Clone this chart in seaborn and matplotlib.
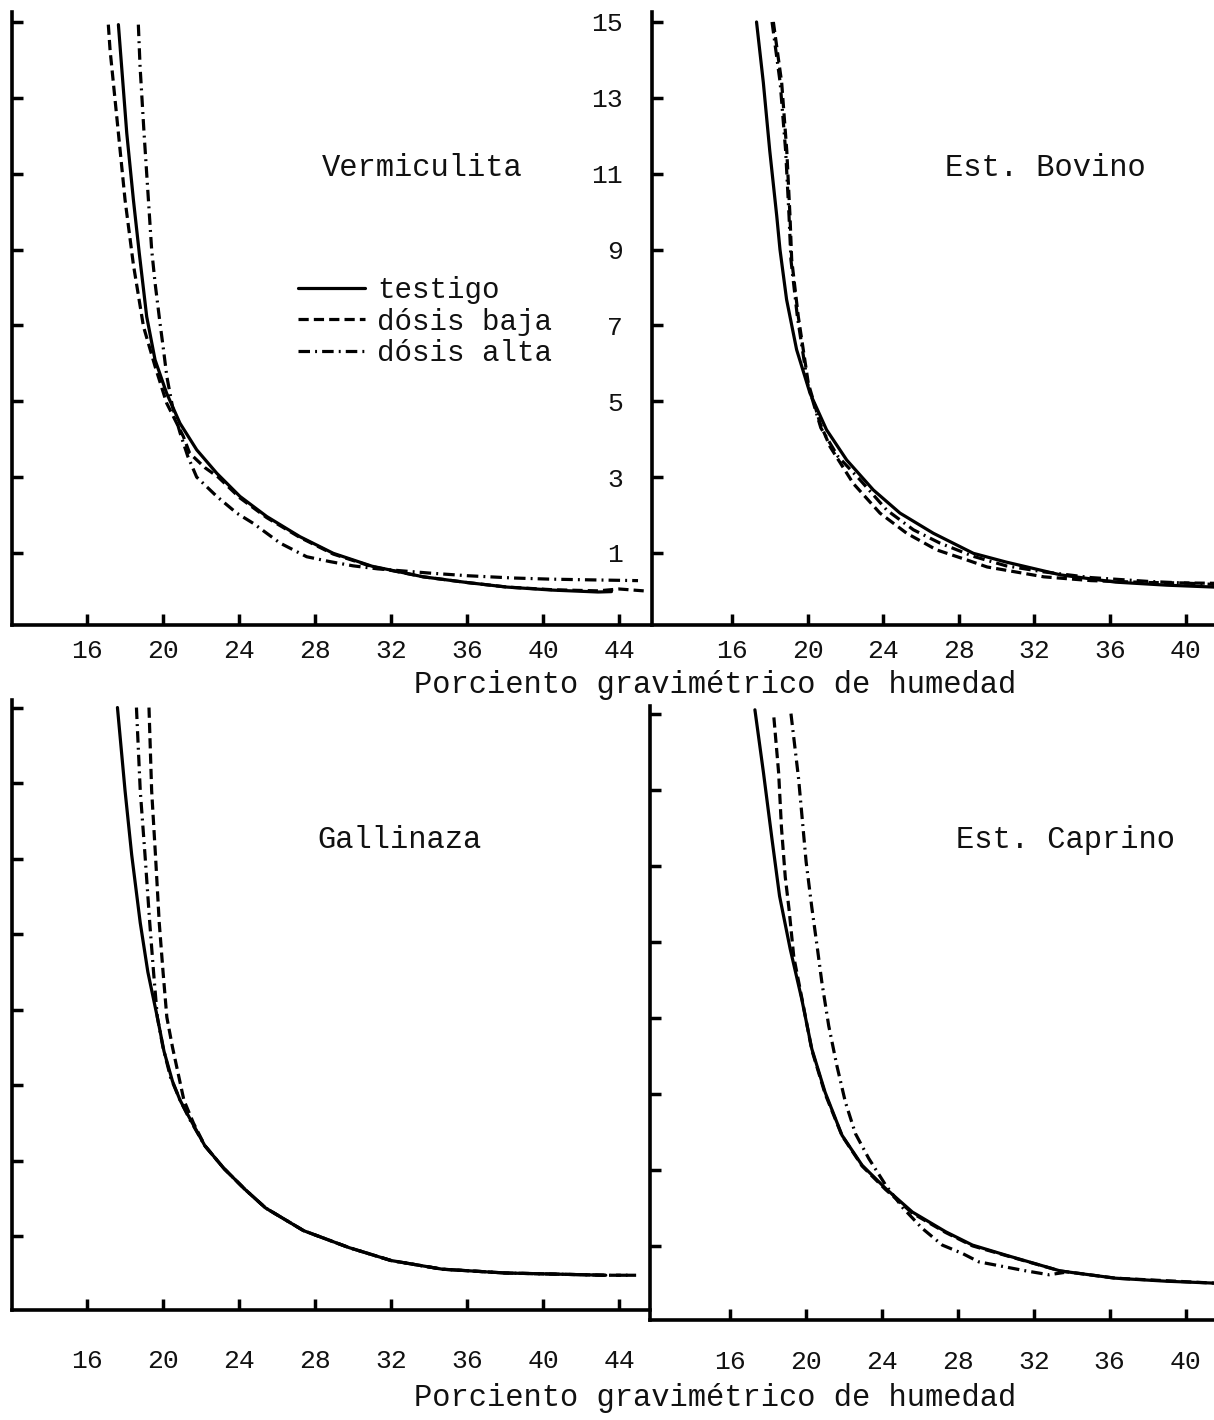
import numpy as np
import pandas as pd
import seaborn as sns
import matplotlib.pyplot as plt

sns.set_theme(style="ticks")
plt.rcParams['font.family'] = ['Liberation Mono', 'DejaVu Sans Mono']

series = ['testigo', 'dósis baja', 'dósis alta']
paneles = ['Vermiculita', 'Est. Bovino', 'Gallinaza', 'Est. Caprino']
xticks_izq = [16, 20, 24, 28, 32, 36, 40, 44]
xticks_der = [16, 20, 24, 28, 32, 36, 40]
yticks = [1, 3, 5, 7, 9, 11, 13, 15]
xlabel = 'Porciento gravimétrico de humedad'

# Vermiculita
verm_testigo_x = [17.65, 18.09, 18.44, 18.75, 19.14, 19.58, 20.19, 20.89, 21.77, 22.83, 24.05, 25.46,
                  27.2, 28.96, 31.0, 33.7, 36.0, 38.1, 40.5, 42.9, 43.6]
verm_testigo_y = [14.93, 12.07, 10.31, 8.9, 7.23, 6.09, 5.21, 4.42, 3.72, 3.10, 2.49, 1.96,
                  1.43, 0.99, 0.65, 0.37, 0.22, 0.1, 0.02, -0.03, -0.02]
verm_baja_x = [17.12, 17.21, 17.65, 18.0, 18.44, 18.97, 19.58, 20.19, 21.07, 21.4, 22.2, 22.9,
               24.05, 25.46, 27.2, 28.96, 31.0, 33.7, 36.0, 38.1, 40.5, 42.9, 44.0, 45.3]
verm_baja_y = [14.93, 14.27, 12.07, 10.31, 8.6, 6.97, 5.92, 4.95, 4.07, 3.63, 3.25, 3.0,
               2.45, 1.93, 1.41, 0.97, 0.64, 0.37, 0.22, 0.1, 0.03, 0.0, 0.05, 0.0]
verm_alta_x = [18.7, 18.79, 19.0, 19.23, 19.4, 19.58, 19.84, 20.0, 20.2, 20.5, 20.9, 21.3, 21.77,
               22.83, 23.88, 24.75, 26.16, 27.56, 28.8, 30.0, 31.3, 34.0, 36.0, 38.4, 40.3, 42.5, 45.0]
verm_alta_y = [14.93, 13.83, 12.07, 10.31, 9.0, 8.12, 7.06, 6.45, 5.65, 4.85, 4.16, 3.55, 3.0,
               2.49, 2.05, 1.78, 1.26, 0.9, 0.77, 0.66, 0.58, 0.47, 0.4, 0.34, 0.31, 0.29, 0.27]

# Est. Bovino
bov_testigo_x = [17.3, 17.66, 18.0, 18.37, 18.54, 18.89, 19.42, 20.13, 21.0, 22.07, 23.48, 24.89,
                 26.65, 28.77, 30.5, 33.4, 36.3, 39.0, 41.5]
bov_testigo_y = [15.0, 13.4, 11.6, 9.88, 9.0, 7.68, 6.36, 5.21, 4.25, 3.45, 2.66, 2.05,
                 1.52, 0.99, 0.76, 0.42, 0.23, 0.15, 0.1]
bov_baja_x = [18.19, 18.63, 18.9, 19.07, 19.16, 19.51, 20.04, 20.66, 21.19, 22.42, 23.83, 25.24,
              26.83, 28.4, 29.5, 32.5, 35.0, 38.0, 41.5]
bov_baja_y = [15.0, 13.4, 11.6, 9.88, 8.73, 7.23, 5.47, 4.42, 3.8, 2.83, 2.05, 1.52,
              1.08, 0.82, 0.63, 0.37, 0.27, 0.22, 0.2]
bov_alta_x = [18.12, 18.55, 18.84, 19.02, 19.12, 19.46, 20.0, 20.7, 21.6, 22.77, 24.19, 25.6,
              27.0, 28.77, 30.5, 32.5, 35.0, 38.0, 41.5]
bov_alta_y = [15.0, 13.4, 11.6, 9.88, 8.73, 7.23, 5.47, 4.3, 3.55, 2.93, 2.13, 1.61,
              1.26, 0.91, 0.66, 0.5, 0.35, 0.25, 0.17]

# Gallinaza
gal_testigo_x = [17.6, 18.0, 18.35, 18.8, 19.2, 19.7, 20.05, 20.5, 20.9, 21.4, 22.2, 23.2, 24.3,
                 25.4, 27.4, 29.8, 32.0, 34.7, 38.0, 43.3]
gal_testigo_y = [15.0, 12.8, 11.1, 9.3, 8.0, 6.8, 5.9, 5.1, 4.6, 4.13, 3.4, 2.8, 2.25,
                 1.75, 1.15, 0.7, 0.36, 0.13, 0.03, -0.03]
gal_baja_x = [19.26, 19.4, 19.6, 19.8, 20.0, 20.2, 20.5, 20.8, 21.1, 21.6, 22.2, 23.2, 24.3,
              25.4, 27.4, 29.8, 32.0, 34.7, 38.0, 43.3, 44.9]
gal_baja_y = [15.0, 12.8, 11.1, 9.3, 8.0, 6.8, 6.0, 5.3, 4.6, 4.0, 3.4, 2.8, 2.25,
              1.75, 1.15, 0.7, 0.36, 0.13, 0.03, -0.03, -0.03]
gal_alta_x = [18.6, 18.8, 19.05, 19.3, 19.5, 19.7, 20.0, 20.4, 20.9, 21.4, 22.2, 23.2, 24.3,
              25.4, 27.4, 29.8, 32.0, 34.7, 38.0, 43.3, 44.5]
gal_alta_y = [15.0, 12.8, 11.1, 9.3, 8.0, 6.8, 6.0, 5.2, 4.6, 4.1, 3.4, 2.8, 2.25,
              1.75, 1.15, 0.7, 0.36, 0.13, 0.03, -0.03, -0.03]

# Est. Caprino
cap_testigo_x = [17.3, 17.75, 18.2, 18.6, 19.16, 19.77, 20.3, 21.0, 21.89, 22.95, 24.19, 25.6,
                 27.36, 28.77, 30.5, 33.4, 36.3, 39.0, 41.5]
cap_testigo_y = [15.1, 13.45, 11.7, 10.2, 8.81, 7.49, 6.18, 5.04, 3.91, 3.12, 2.51, 1.89,
                 1.37, 1.02, 0.76, 0.34, 0.15, 0.07, 0.02]
cap_baja_x = [18.3, 18.55, 18.7, 18.9, 19.1, 19.35, 19.8, 20.3, 21.0, 21.89, 22.95, 24.19,
              25.6, 27.36, 28.77, 30.5, 33.4, 36.3, 41.5]
cap_baja_y = [14.9, 13.45, 12.0, 10.7, 9.85, 8.6, 7.45, 6.15, 5.0, 3.9, 3.1, 2.48,
              1.86, 1.35, 1.0, 0.75, 0.34, 0.15, 0.02]
cap_alta_x = [19.2, 19.6, 20.0, 20.3, 20.6, 20.83, 21.19, 21.62, 22.07, 22.6, 23.3, 24.19,
              25.1, 26.12, 27.18, 28.24, 29.1, 31.5, 32.8, 33.6]
cap_alta_y = [15.0, 13.3, 11.1, 9.9, 8.8, 7.93, 6.79, 5.74, 4.78, 3.95, 3.3, 2.6,
              2.0, 1.46, 1.02, 0.8, 0.58, 0.35, 0.24, 0.3]

curvas = {
    'Vermiculita': [(verm_testigo_x, verm_testigo_y), (verm_baja_x, verm_baja_y), (verm_alta_x, verm_alta_y)],
    'Est. Bovino': [(bov_testigo_x, bov_testigo_y), (bov_baja_x, bov_baja_y), (bov_alta_x, bov_alta_y)],
    'Gallinaza': [(gal_testigo_x, gal_testigo_y), (gal_baja_x, gal_baja_y), (gal_alta_x, gal_alta_y)],
    'Est. Caprino': [(cap_testigo_x, cap_testigo_y), (cap_baja_x, cap_baja_y), (cap_alta_x, cap_alta_y)],
}

rows = []
for panel, lst in curvas.items():
    for serie, (xs, ys) in zip(series, lst):
        for xv, yv in zip(xs, ys):
            rows.append((panel, serie, xv, yv))
df = pd.DataFrame(rows, columns=['panel', 'serie', 'humedad', 'tension'])

estilos = {'testigo': '-', 'dósis baja': (0, (3.2, 1.6)), 'dósis alta': (0, (3.6, 1.6, 0.6, 1.6))}

W, H = 1214, 1420
fig = plt.figure(figsize=(W / 100, H / 100), dpi=100)


def caja(l, r, t, b):
    return [l / W, 1 - b / H, (r - l) / W, (b - t) / H]


layout = {
    'Vermiculita': (caja(12, 650, 12.5, 625), (12.05, 45.63), (-0.9, 15.25), xticks_izq, 10),
    'Est. Bovino': (caja(652, 1214, 12.5, 625), (11.77, 41.5), (-0.9, 15.25), xticks_der, 10),
    'Gallinaza': (caja(12, 650, 700, 1310), (12.05, 45.63), (-0.95, 15.2), xticks_izq, 28),
    'Est. Caprino': (caja(650, 1214, 706, 1320), (11.77, 41.5), (-0.95, 15.2), xticks_der, 21.5),
}
titulo_pos = {'Vermiculita': (422, 168), 'Est. Bovino': (1045, 168),
              'Gallinaza': (400, 840), 'Est. Caprino': (1065, 840)}

axes = {}
for panel in paneles:
    pos, xl, yl, xt, xpad = layout[panel]
    ax = fig.add_axes(pos)
    ax.set_facecolor('none')
    sub = df[df['panel'] == panel]
    for serie in series:
        d = sub[sub['serie'] == serie]
        sns.lineplot(data=d, x='humedad', y='tension', ax=ax, color='black', lw=2.3,
                     linestyle=estilos[serie], sort=False, estimator=None,
                     label=serie, legend=False)
    ax.set_xlim(*xl)
    ax.set_ylim(*yl)
    ax.set_xticks(xt)
    ax.set_yticks(yticks)
    ax.set_xlabel('')
    ax.set_ylabel('')
    sns.despine(ax=ax)
    for s in ['left', 'bottom']:
        ax.spines[s].set_linewidth(2.6)
        ax.spines[s].set_color('black')
    ax.tick_params(direction='in', length=8, width=2.5, color='black', labelsize=19,
                   labelcolor='#111111')
    if panel == 'Est. Bovino':
        ax.tick_params(axis='y', pad=21)
    else:
        ax.tick_params(axis='y', labelleft=False)
    ax.tick_params(axis='x', pad=xpad)
    tx, ty = titulo_pos[panel]
    fig.text(tx / W, 1 - ty / H, panel, ha='center', va='center', fontsize=22, color='#111111')
    axes[panel] = ax

leg = axes['Vermiculita'].legend(
    handles=axes['Vermiculita'].get_lines()[:3], labels=series,
    loc='upper left', bbox_to_anchor=(298 / W, 1 - 276 / H), bbox_transform=fig.transFigure,
    frameon=False, fontsize=21, handlelength=2.3, handletextpad=0.4, labelspacing=0.12,
    borderpad=0, borderaxespad=0)
for t in leg.get_texts():
    t.set_color('#111111')

fig.text(715 / W, 1 - 685 / H, xlabel, ha='center', va='center', fontsize=22, color='#111111')
fig.text(715 / W, 1 - 1398 / H, xlabel, ha='center', va='center', fontsize=22, color='#111111')

fig.savefig('out.png', dpi=100, facecolor='white')
